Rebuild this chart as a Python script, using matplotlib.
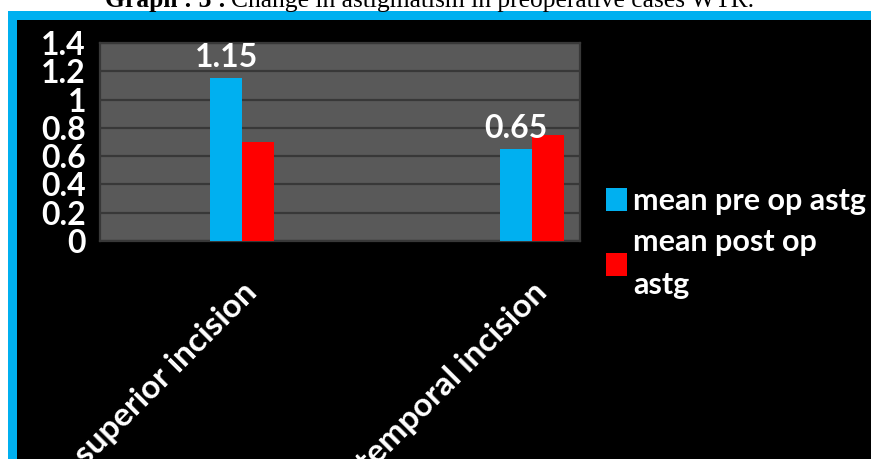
import matplotlib.pyplot as plt
from matplotlib.patches import Rectangle
import numpy as np

categories = ['superior incision', 'temporal incision']
pre_op = [1.15, 0.65]
post_op = [0.70, 0.75]
pre_labels = ['1.15', '0.65']
yticks = [0, 0.2, 0.4, 0.6, 0.8, 1.0, 1.2, 1.4]
ytick_labels = ['0', '0.2', '0.4', '0.6', '0.8', '1', '1.2', '1.4']

W, H = 871, 459
BLUE = '#00b0f0'
RED = '#ff0000'
FONT = 'Lato'


def px_box(x0, y0, x1, y1):
    # pixel box (from top-left) -> figure fraction rect
    return [x0 / W, 1 - y1 / H, (x1 - x0) / W, (y1 - y0) / H]


def main():
    fig = plt.figure(figsize=(W / 100, H / 100), dpi=100)
    fig.patch.set_facecolor('white')

    # blue frame and black panel
    fig.add_artist(Rectangle((8 / W, 0), 1, 1 - 11 / H, transform=fig.transFigure,
                             facecolor=BLUE, edgecolor='none', zorder=0))
    fig.add_artist(Rectangle((17 / W, 0), 1, 1 - 20 / H, transform=fig.transFigure,
                             facecolor='black', edgecolor='none', zorder=0))

    ax = fig.add_axes(px_box(100, 43, 580, 241))
    ax.set_facecolor('#595959')
    ax.set_zorder(2)

    x = np.arange(len(categories))
    w = 0.11
    b1 = ax.bar(x - w / 2, pre_op, w, color=BLUE, label='mean pre op astg', zorder=3)
    b2 = ax.bar(x + w / 2, post_op, w, color=RED, label='mean post op\nastg', zorder=3)

    for rect, txt in zip(b1, pre_labels):
        ax.annotate(txt, (rect.get_x() + rect.get_width() / 2, rect.get_height()),
                    xytext=(0, 15), textcoords='offset points', ha='center', va='center',
                    color='white', fontsize=23, fontweight='bold', family=FONT)

    ax.set_xlim(-0.49, 1.166)
    ax.set_ylim(0, 1.4)
    ax.set_yticks(yticks)
    ax.set_yticklabels(ytick_labels)
    ax.set_xticks(x)
    ax.set_xticklabels(categories, rotation=45, ha='right', va='top', rotation_mode='anchor')
    ax.tick_params(axis='y', length=0, pad=10, labelcolor='white', labelsize=23)
    ax.tick_params(axis='x', length=0, pad=26, labelcolor='white', labelsize=24)
    for lab in ax.get_xticklabels() + ax.get_yticklabels():
        lab.set_fontweight('bold')
        lab.set_family(FONT)

    ax.grid(axis='y', color='#383838', linewidth=1.6, zorder=1)
    ax.set_axisbelow(True)
    for s in ax.spines.values():
        s.set_color('#383838')
        s.set_linewidth(1.6)

    leg = fig.legend(handles=[b1, b2], loc='upper left',
                     bbox_to_anchor=(606 / W, 1 - 187 / H), frameon=False,
                     handlelength=0.68, handleheight=0.78, handletextpad=0.2,
                     labelspacing=0.42, borderpad=0, borderaxespad=0,
                     prop={'family': FONT, 'weight': 'bold', 'size': 22})
    for t in leg.get_texts():
        t.set_color('white')
        t.set_linespacing(1.65)

    # title, partly outside the page
    fig.canvas.draw()
    r = fig.canvas.get_renderer()
    t1 = fig.text(105 / W, 1 - 7 / H, 'Graph : 3 :', ha='left', va='baseline',
                  family='Liberation Serif', fontweight='bold', fontsize=18.4)
    bb = t1.get_window_extent(r)
    fig.text(bb.x1 / W + 5 / W, 1 - 7 / H, 'Change in astigmatism in preoperative cases WTR.',
             ha='left', va='baseline', family='Liberation Serif', fontsize=18.4)

    fig.savefig('out.png', dpi=100, facecolor=fig.get_facecolor())


if __name__ == '__main__':
    main()
